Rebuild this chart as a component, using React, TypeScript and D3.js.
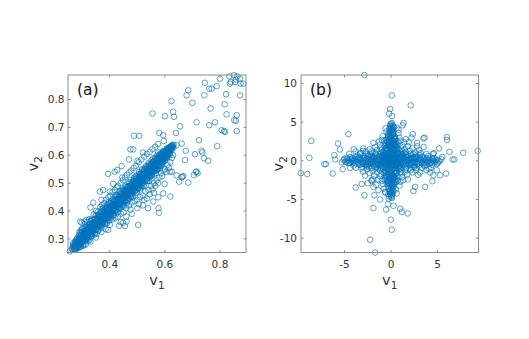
import { useEffect, useRef } from "react";
import * as d3 from "d3";

// ---- panel (a): v1 vs v2, tightly correlated ----
const coreA: [number, number][] = [
  [.262,.265],[.265,.261],[.267,.277],[.27,.262],[.272,.278],[.274,.262],[.276,.291],[.278,.275],[.28,.289],[.281,.267],
  [.283,.303],[.285,.286],[.286,.268],[.288,.3],[.29,.283],[.291,.315],[.293,.273],[.295,.3],[.297,.314],[.298,.287],
  [.3,.327],[.302,.279],[.303,.311],[.305,.301],[.307,.326],[.308,.281],[.31,.323],[.312,.297],[.313,.343],[.315,.317],
  [.317,.297],[.318,.34],[.32,.311],[.322,.333],[.323,.293],[.325,.351],[.327,.324],[.328,.343],[.33,.313],[.332,.365],
  [.333,.339],[.335,.311],[.337,.356],[.338,.33],[.34,.368],[.342,.329],[.343,.353],[.345,.316],[.347,.37],[.348,.347],
  [.35,.385],[.352,.333],[.353,.367],[.355,.345],[.357,.384],[.358,.332],[.36,.364],[.362,.382],[.363,.349],[.365,.396],
  [.367,.362],[.368,.38],[.37,.339],[.372,.396],[.373,.355],[.375,.382],[.377,.411],[.378,.369],[.38,.397],[.382,.357],
  [.383,.384],[.385,.414],[.387,.372],[.388,.399],[.39,.357],[.392,.413],[.393,.387],[.395,.431],[.397,.376],[.398,.406],
  [.4,.389],[.402,.427],[.403,.375],[.405,.408],[.407,.423],[.408,.392],[.41,.442],[.412,.408],[.413,.426],[.415,.385],
  [.417,.439],[.418,.408],[.42,.426],[.422,.457],[.423,.401],[.425,.443],[.427,.42],[.428,.456],[.43,.396],[.432,.442],
  [.433,.42],[.435,.459],[.437,.412],[.438,.44],[.44,.471],[.442,.424],[.443,.457],[.445,.44],[.447,.474],[.448,.419],
  [.45,.457],[.452,.44],[.453,.473],[.455,.435],[.457,.49],[.458,.456],[.46,.472],[.462,.43],[.463,.486],[.465,.456],
  [.467,.471],[.468,.444],[.47,.499],[.472,.457],[.473,.489],[.475,.471],[.477,.511],[.478,.451],[.48,.489],[.482,.469],
  [.483,.505],[.485,.45],[.487,.489],[.488,.514],[.49,.471],[.492,.505],[.493,.487],[.495,.526],[.497,.467],[.498,.516],
  [.5,.489],[.502,.508],[.503,.481],[.505,.532],[.507,.506],[.508,.523],[.51,.477],[.512,.533],[.513,.497],[.515,.523],
  [.517,.491],[.518,.551],[.52,.513],[.522,.534],[.523,.492],[.525,.549],[.527,.515],[.528,.531],[.53,.509],[.532,.561],
  [.533,.529],[.535,.552],[.537,.509],[.538,.547],[.54,.526],[.542,.567],[.543,.508],[.545,.549],[.547,.529],[.548,.568],
  [.55,.542],[.552,.582],[.553,.529],[.555,.566],[.557,.554],[.558,.577],[.56,.531],[.562,.568],[.563,.55],[.565,.588],
  [.567,.546],[.568,.569],[.57,.584],[.572,.547],[.573,.599],[.575,.566],[.577,.585],[.578,.561],[.58,.6],[.582,.58],
  [.583,.595],[.585,.563],[.587,.604],[.588,.578],[.59,.595],[.592,.576],[.593,.615],[.595,.59],[.597,.608],[.598,.579],
  [.6,.615],[.602,.594],[.603,.607],[.605,.591],[.607,.625],[.608,.605],[.61,.619],[.612,.601],[.613,.627],[.615,.611],
  [.617,.623],[.618,.609],[.62,.631],[.622,.624],[.624,.618],[.626,.633],[.628,.629],[.631,.627],
];
const coreA2: [number, number][] = [
  [.271,.266],[.273,.274],[.275,.283],[.277,.27],[.279,.292],[.28,.279],[.282,.272],[.284,.291],[.286,.3],[.287,.27],
  [.289,.297],[.291,.283],[.293,.31],[.294,.271],[.296,.33],[.298,.283],[.3,.301],[.301,.325],[.303,.275],[.305,.316],
  [.306,.301],[.308,.337],[.31,.292],[.312,.318],[.313,.279],[.315,.334],[.317,.307],[.319,.345],[.32,.299],[.322,.325],
  [.324,.339],[.326,.297],[.327,.349],[.329,.323],[.331,.363],[.333,.317],[.334,.343],[.336,.311],[.338,.356],[.34,.337],
  [.341,.338],[.343,.359],[.345,.32],[.347,.373],[.348,.332],[.35,.356],[.352,.318],[.354,.374],[.355,.349],[.357,.384],
  [.359,.33],[.361,.38],[.362,.357],[.364,.387],[.366,.345],[.368,.369],[.369,.397],[.371,.348],[.373,.407],[.375,.358],
  [.376,.378],[.378,.403],[.38,.362],[.382,.39],[.383,.412],[.385,.354],[.387,.398],[.389,.376],[.39,.421],[.392,.369],
  [.394,.403],[.396,.385],[.397,.427],[.399,.366],[.401,.41],[.403,.391],[.404,.431],[.406,.38],[.408,.416],[.41,.4],
  [.411,.385],[.413,.417],[.415,.436],[.417,.402],[.418,.449],[.42,.418],[.422,.403],[.424,.437],[.425,.452],[.427,.396],
  [.429,.437],[.431,.423],[.432,.449],[.434,.411],[.436,.47],[.438,.423],[.439,.44],[.441,.465],[.443,.415],[.445,.456],
  [.446,.441],[.448,.477],[.45,.432],[.452,.458],[.453,.419],[.455,.474],[.457,.447],[.459,.485],[.46,.439],[.462,.465],
  [.464,.479],[.466,.437],[.467,.489],[.469,.463],[.471,.503],[.473,.457],[.474,.483],[.476,.451],[.478,.496],[.48,.477],
  [.481,.455],[.483,.487],[.485,.506],[.487,.474],[.488,.519],[.49,.482],[.492,.473],[.494,.507],[.495,.522],[.497,.466],
  [.499,.507],[.501,.493],[.502,.519],[.504,.481],[.506,.54],[.508,.493],[.509,.51],[.511,.535],[.513,.485],[.515,.526],
  [.516,.511],[.518,.547],[.52,.502],[.522,.528],[.523,.489],[.525,.544],[.527,.517],[.529,.555],[.53,.509],[.532,.535],
  [.534,.549],[.536,.507],[.537,.559],[.539,.533],[.541,.573],[.543,.527],[.544,.553],[.546,.521],[.548,.566],[.55,.547],
  [.551,.525],[.553,.557],[.555,.576],[.557,.544],[.558,.589],[.56,.552],[.562,.543],[.564,.577],[.565,.592],[.567,.536],
  [.569,.577],[.571,.563],[.572,.589],[.574,.551],[.576,.61],[.578,.563],[.579,.58],[.581,.605],[.583,.555],[.585,.596],
  [.586,.575],[.588,.605],[.59,.568],[.592,.604],[.593,.58],[.595,.612],[.597,.586],[.599,.616],[.6,.59],[.602,.612],
  [.604,.6],[.606,.618],[.607,.594],[.609,.622],[.611,.603],[.613,.624],[.614,.607],[.616,.628],[.618,.614],[.62,.627],
  [.621,.616],[.623,.632],[.625,.626],[.627,.637],[.629,.634],[.632,.638],
];
const coreA3: [number, number][] = [
  [.268,.27],[.276,.275],[.283,.279],[.289,.292],[.295,.291],[.299,.304],[.304,.3],[.309,.314],[.314,.309],[.319,.322],
  [.323,.321],[.328,.335],[.332,.328],[.337,.341],[.341,.336],[.346,.352],[.35,.347],[.355,.36],[.359,.354],[.364,.37],
  [.368,.363],[.373,.378],[.377,.371],[.382,.389],[.386,.381],[.391,.396],[.395,.39],[.4,.407],[.404,.398],[.409,.415],
  [.413,.409],[.418,.424],[.422,.417],[.427,.434],[.431,.426],[.436,.442],[.44,.436],[.445,.452],[.449,.444],[.454,.461],
  [.458,.454],[.463,.47],[.467,.461],[.472,.479],[.476,.471],[.481,.488],[.485,.48],[.49,.497],[.494,.489],[.499,.505],
  [.503,.498],[.508,.515],[.512,.507],[.517,.523],[.521,.516],[.526,.533],[.53,.525],[.535,.541],[.539,.534],[.544,.551],
  [.548,.543],[.553,.559],[.557,.551],[.562,.569],[.566,.561],[.571,.577],[.575,.57],[.58,.587],[.584,.579],[.589,.595],
  [.593,.588],[.598,.603],[.602,.598],[.607,.612],[.611,.607],[.616,.62],[.62,.617],[.625,.628],
  [.272,.281],[.279,.268],[.286,.296],[.292,.28],[.297,.311],[.302,.29],[.307,.322],[.311,.298],[.316,.33],[.321,.305],
  [.326,.341],[.33,.317],[.335,.35],[.339,.325],[.344,.361],[.348,.334],[.353,.37],[.357,.343],[.362,.378],[.366,.35],
  [.371,.389],[.375,.36],[.38,.398],[.384,.368],[.389,.407],[.393,.377],[.398,.416],[.402,.386],[.407,.425],[.411,.394],
  [.416,.434],[.42,.403],[.425,.443],[.429,.41],[.434,.452],[.438,.42],[.443,.461],[.447,.428],[.452,.47],[.456,.437],
  [.461,.479],[.465,.446],[.47,.488],[.474,.455],[.479,.497],[.483,.464],[.488,.506],[.492,.473],[.497,.515],[.501,.482],
  [.506,.524],[.51,.49],[.515,.533],[.519,.5],[.524,.542],[.528,.509],[.533,.551],[.537,.517],[.542,.56],[.546,.527],
  [.551,.569],[.555,.535],[.56,.578],[.564,.545],[.569,.587],[.573,.553],[.578,.596],[.582,.562],[.587,.603],[.591,.572],
  [.596,.611],[.6,.582],[.605,.618],[.609,.592],[.614,.625],[.618,.603],[.623,.633],
];
const coreA4: [number, number][] = [
  [.296,.305],[.301,.293],[.312,.327],[.317,.303],[.326,.33],[.334,.325],[.339,.35],[.346,.339],[.351,.364],[.36,.35],
  [.365,.379],[.37,.356],[.379,.388],[.387,.38],[.391,.408],[.397,.389],[.405,.419],[.41,.403],[.414,.43],[.421,.412],
  [.426,.425],[.433,.447],[.437,.428],[.444,.449],[.451,.446],[.456,.468],[.463,.452],[.468,.478],[.474,.466],[.479,.49],
  [.486,.476],[.491,.5],[.496,.484],[.503,.512],[.509,.5],[.514,.529],[.519,.509],[.526,.538],[.531,.521],[.536,.546],
  [.541,.53],[.549,.56],[.554,.541],[.559,.567],[.566,.555],[.572,.58],[.577,.564],[.583,.59],[.59,.581],[.596,.6],
  [.318,.334],[.344,.356],[.366,.37],[.392,.397],[.418,.42],[.446,.45],[.469,.474],[.493,.497],[.518,.522],[.543,.548],
  [.305,.3],[.33,.322],[.356,.352],[.38,.373],[.406,.398],[.43,.427],[.457,.449],[.482,.478],[.507,.503],[.533,.527],
  [.558,.557],[.582,.576],[.61,.61],[.62,.624],
  [.266,.284],[.274,.292],[.281,.3],[.288,.312],[.277,.262],[.285,.273],[.293,.322],[.3,.338],
];
const haloUpA: [number, number][] = [
  [.29,.325],[.298,.358],[.3,.335],[.308,.362],[.31,.352],[.315,.368],[.318,.36],[.325,.37],[.335,.372],[.342,.388],
  [.35,.4],[.358,.398],[.365,.415],[.37,.44],[.372,.42],[.38,.428],[.386,.44],[.395,.45],[.4,.47],[.402,.455],
  [.41,.468],[.418,.475],[.425,.485],[.43,.49],[.44,.5],[.445,.52],[.448,.51],[.455,.52],[.462,.53],[.47,.538],
  [.478,.545],[.487,.555],[.495,.562],[.5,.58],[.505,.575],[.515,.585],[.52,.61],[.525,.595],[.535,.605],[.545,.612],
  [.555,.622],[.565,.63],[.575,.64],
];
const haloLowA: [number, number][] = [
  [.33,.29],[.35,.305],[.37,.325],[.385,.335],[.4,.35],[.41,.37],[.42,.375],[.43,.38],[.44,.36],[.44,.39],
  [.45,.395],[.46,.38],[.46,.41],[.47,.42],[.475,.405],[.48,.39],[.48,.43],[.49,.435],[.5,.41],[.5,.44],
  [.505,.425],[.51,.45],[.52,.42],[.52,.455],[.525,.44],[.53,.47],[.535,.445],[.54,.475],[.545,.46],[.55,.49],
  [.555,.478],[.56,.465],[.56,.5],[.565,.49],[.57,.51],[.575,.5],[.58,.52],[.585,.535],[.59,.525],[.595,.545],
  [.6,.55],[.605,.54],[.61,.565],[.615,.555],[.62,.575],[.625,.59],[.63,.6],
];
const outA: [number, number][] = [
  [.8,.875],[.834,.883],[.851,.887],[.863,.883],[.873,.875],[.84,.863],[.855,.863],[.875,.857],[.885,.857],[.836,.857],
  [.858,.872],[.788,.848],[.77,.839],[.761,.839],[.745,.86],[.743,.815],[.685,.833],[.679,.815],[.7,.788],[.624,.794],
  [.822,.819],[.873,.815],[.817,.783],[.766,.768],[.824,.747],[.861,.744],[.852,.726],[.858,.723],[.861,.687],[.806,.69],
  [.815,.687],[.818,.684],[.761,.708],[.782,.718],[.715,.718],[.79,.633],[.724,.654],[.733,.616],[.736,.61],[.742,.589],
  [.757,.58],[.709,.604],[.673,.583],[.713,.541],[.719,.535],[.555,.75],[.6,.74],[.63,.756],[.633,.738],[.655,.704],
  [.64,.68],[.58,.68],[.594,.672],[.596,.651],[.661,.642],[.676,.616],[.642,.636],[.667,.525],[.661,.521],[.618,.541],
  [.705,.529],[.715,.541],[.685,.502],[.652,.505],[.663,.523],[.642,.528],[.625,.541],[.599,.497],[.594,.463],[.62,.452],
  [.577,.41],[.576,.449],[.558,.434],[.539,.41],[.503,.35],[.461,.362],[.434,.347],[.394,.332],[.578,.394],[.448,.358],
  [.455,.346],[.488,.67],[.507,.67],[.475,.621],[.485,.621],[.47,.585],[.443,.561],[.427,.547],[.418,.541],[.394,.533],
  [.412,.497],[.376,.475],[.364,.469],[.33,.413],[.34,.43],[.293,.362],[.255,.255],[.267,.273],[.285,.296],
];

// ---- panel (b): star-shaped cloud ----
const coreB: [number, number][] = [
  [-1.3,.2],[-1.1,-.6],[-1.2,.9],[-.9,.1],[-.8,-1.1],[-.7,.6],[-.6,-.3],[-.5,1.2],[-.4,-.8],[-.3,.3],
  [-.2,-1.3],[-.1,.8],[0,0],[.1,-.5],[.2,1.1],[.3,-.1],[.4,.6],[.5,-.9],[.6,.2],[.7,1],
  [.8,-.4],[.9,.5],[1,-1],[1.1,.1],[1.3,-.3],[1.2,.8],[-1,-.2],[-.6,1.4],[.3,1.4],[-.2,-.4],
  [0,.5],[-.5,-1.4],[.4,-1.3],[.9,1.3],[-1.4,-.4],[1.4,.4],[-.9,-.7],[.6,-.6],[-.3,1],[.2,-.9],
  [-.7,-.2],[.1,.2],[-.4,.4],[.5,.3],[-.1,-.1],[.8,.9],[-1.2,.5],[1,-.6],[-.8,1],[.3,.9],
  [.1,1.6],[-.5,1.7],[.6,1.8],[-.2,2],[.3,2.2],[-.6,2.3],[.5,2.5],[0,2.6],[-.3,2.8],[.3,3],
  [-.1,3.2],[.2,3.4],[-.3,3.5],[.1,3.7],[0,3.9],[-.2,4.1],[.2,4.2],[0,4.4],[-.1,4.7],[.1,4.9],
  [.7,2.1],[-.7,1.9],[.4,1.5],[-.4,2.5],[.4,2.8],[-.1,2.4],[.2,3.8],
  [0,-1.6],[-.5,-1.8],[.5,-1.7],[-.2,-2],[.3,-2.2],[-.6,-2.3],[.6,-2.4],[.1,-2.6],[-.3,-2.8],[.3,-3],
  [-.1,-3.2],[.2,-3.4],[-.3,-3.6],[.1,-3.8],[-.1,-4],[.2,-4.2],[0,-4.4],[-.2,-4.6],[.1,-4.8],[-.7,-2],
  [.7,-2],[-.4,-2.6],[.4,-2.7],[0,-3.5],[-.2,-3],
  [1.6,.1],[1.7,-.6],[1.8,.7],[2,-.2],[2.2,.4],[2.3,-.8],[2.5,.1],[2.6,.7],[2.8,-.4],[3,.3],
  [3.2,-.2],[3.4,.5],[3.5,-.5],[3.7,.1],[3.9,-.2],[4.1,.3],[4.3,-.1],[4.5,.2],[4.7,-.2],[4.9,.1],
  [5.2,0],[5.4,.2],[2.1,.9],[2,-1],[2.7,-.9],[3.1,.8],[3.6,-.7],[4,.6],[4.4,-.5],[5,-.3],
  [-1.6,-.1],[-1.7,.6],[-1.8,-.7],[-2,.2],[-2.2,-.4],[-2.3,.8],[-2.5,-.1],[-2.6,-.7],[-2.8,.4],[-3,-.3],
  [-3.2,.2],[-3.4,-.5],[-3.5,.5],[-3.7,-.1],[-3.9,.2],[-4.1,-.3],[-4.3,.1],[-4.5,-.2],[-4.7,.2],[-4.9,-.1],
  [-5.1,.1],[-2.1,-.9],[-2,1],[-2.7,.9],[-3.1,-.8],[-3.6,.7],[-4,-.6],[-4.4,.5],[-5.3,-.2],
];
const coreB2: [number, number][] = [
  [-1.15,-.15],[-1.05,.45],[-.95,-.45],[-.85,.75],[-.75,-.75],[-.65,.25],[-.55,-.55],[-.45,.85],[-.35,-.15],[-.25,.55],
  [-.15,-.85],[-.05,.25],[.05,-.25],[.15,.65],[.25,-.65],[.35,.15],[.45,-.35],[.55,.85],[.65,-.15],[.75,.45],
  [.85,-.75],[.95,.15],[1.05,-.35],[1.15,.55],[-.3,-.5],[.2,.4],[-.6,.9],[.7,-.9],[-.9,-.9],[.9,.9],
  [-.1,1.2],[.1,-1.2],[1.2,-.1],[-1.2,.1],[-.4,-1.1],[.4,1.1],[-1,.7],[1,-.8],[0,-.7],[0,.9],
  [-.55,.05],[.55,-.05],[-.2,.15],[.2,-.2],[-.8,.4],[.8,.3],[.3,-.35],[-.35,.7],[.65,.65],[-.65,-.6],
  [.2,1.5],[-.3,1.6],[.4,1.9],[-.4,2],[.1,2.1],[-.2,2.2],[.5,2.2],[0,2.35],[-.5,2.1],[.25,2.5],
  [-.25,2.6],[.15,2.75],[-.05,2.9],[.35,3.1],[-.3,3.1],[.05,3.3],[-.2,3.4],[.25,3.6],[-.1,3.6],[.1,4],
  [-.15,3.8],[.05,4.25],[-.1,4.5],[.15,4.6],[0,4.8],[.6,1.6],[-.6,1.6],[.3,1.7],[-.1,1.8],[.35,2],
  [0,-1.5],[-.35,-1.65],[.35,-1.6],[.15,-1.9],[-.45,-2.1],[.45,-2.05],[-.1,-2.25],[.25,-2.4],[-.3,-2.45],[.05,-2.8],
  [-.15,-2.6],[.3,-2.85],[-.25,-3.3],[.15,-3.15],[.05,-3.6],[-.15,-3.85],[.25,-3.9],[.05,-4.1],[-.1,-4.3],[.1,-4.5],
  [0,-4.7],[-.6,-1.6],[.6,-1.55],[-.05,-1.75],[.2,-2.2],
  [1.5,.3],[1.6,-.35],[1.75,.45],[1.9,-.5],[1.95,.2],[2.1,-.3],[2.2,.7],[2.35,-.2],[2.4,.4],[2.55,-.55],
  [2.65,.2],[2.75,.5],[2.9,-.1],[3,-.6],[3.1,.4],[3.25,.1],[3.35,-.35],[3.5,.25],[3.65,-.2],[3.8,.35],
  [3.95,.05],[4.1,-.35],[4.2,.1],[4.4,.3],[4.6,-.05],[4.8,.15],[5.1,-.1],[1.55,.8],[1.65,-.9],[2.5,.5],
  [-1.5,-.3],[-1.6,.35],[-1.75,-.45],[-1.9,.5],[-1.95,-.2],[-2.1,.3],[-2.2,-.7],[-2.35,.2],[-2.4,-.4],[-2.55,.55],
  [-2.65,-.2],[-2.75,-.5],[-2.9,.1],[-3,.6],[-3.1,-.4],[-3.25,-.1],[-3.35,.35],[-3.5,-.25],[-3.65,.2],[-3.8,-.35],
  [-3.95,-.05],[-4.1,.35],[-4.2,-.1],[-4.4,-.3],[-4.6,.05],[-4.8,-.15],[-5,.25],[-1.55,-.8],[-1.65,.9],[-2.5,-.5],
];
const coreB3: [number, number][] = [
  [-.22,-.31],[.27,.18],[-.33,.22],[.19,-.36],[-.78,.08],[.71,-.12],[.06,.79],[-.09,-.72],[-.52,.46],[.48,-.55],
  [-.47,-.58],[.54,.49],[-.97,.33],[1.02,-.27],[.31,.98],[-.28,-1.03],[-1.42,.12],[1.38,-.07],[.13,1.43],[-.06,-1.37],
  [-1.83,.27],[1.76,-.22],[.24,1.82],[-.27,-1.79],[-2.18,.08],[2.24,-.13],[.09,2.21],[-.12,-2.17],[-2.63,.31],[2.58,-.28],
  [.29,2.57],[-.31,-2.62],[-3.05,-.12],[3.08,.14],[-.11,3.04],[.13,-3.03],[-1.25,-.45],[1.27,.42],[-.43,1.24],[.46,-1.22],
  [-.88,-.25],[.9,.23],[-.21,.91],[.24,-.87],[-1.6,-.55],[1.63,.52],[-.53,1.62],[.56,-1.58],[-2,.55],[2.03,-.5],
  [.5,2.02],[-.52,-2.01],[-2.4,-.35],[2.38,.33],[-.34,2.4],[.37,-2.39],[-.15,.05],[.12,-.08],[.03,.38],[-.04,-.4],
  [.4,.02],[-.42,-.05],[-1.1,-.9],[1.1,.85],[-.85,1.1],[.88,-1.05],[-3.4,.1],[3.45,-.05],[-4.2,.3],[4.25,-.25],
  [.05,-4.15],[-.08,4.05],[-.15,-3.95],[.18,3.45],[-1.95,-.05],[1.92,.06],[-.02,-1.95],[.04,1.97],[-.6,-.95],[.62,.92],
  [-.95,.62],[.97,-.6],
];
const coreB4: [number, number][] = [
  [-1.35,.55],[1.35,-.55],[-.55,1.35],[.55,-1.35],[-1.35,-.6],[1.35,.6],[.6,1.35],[-.6,-1.35],[-2.2,.55],[2.2,-.55],
  [-2.25,-.15],[2.3,.15],[-.15,2.25],[.15,-2.3],[-.55,2.7],[.55,-2.75],[-2.7,-.45],[2.7,.45],[.45,2.95],[-.45,-2.95],
  [-3.3,-.5],[3.3,.55],[-3.6,.3],[3.6,-.3],[-4,.05],[4,-.05],[-4.6,-.3],[4.6,.35],[.3,-3.3],[-.3,3.3],
  [.3,4.3],[-.3,-4.3],[0,3.05],[0,-2.95],[-1,1.45],[1,-1.45],[1.45,1],[-1.45,-1],[-.8,-1.55],[.8,1.55],
  [-1.75,.05],[1.75,-.05],[-.05,1.75],[.05,-1.75],[-2.05,-.3],[2.05,.3],[.3,-2.05],[-.3,2.05],[-2.9,.35],[2.9,-.35],
  [.35,2.85],[-.35,-2.85],[-1.15,1.15],[1.15,-1.15],[-1.2,-1.2],[1.2,1.25],[-.35,-.25],[.35,.3],[-.65,.45],[.65,-.4],
  [-.15,.6],[.1,-.6],[-.9,-.05],[.95,.05],[-2.5,.2],[2.5,-.2],[-.2,2.45],[.2,-2.5],[-3.8,.55],[3.8,-.55],
  [-4.8,.4],[4.9,-.4],[-.5,3.8],[.5,-3.7],[-.25,-4.9],[.25,4.45],
];
const haloB: [number, number][] = [
  [1.5,1.5],[1.2,2],[2,1.3],[1,2.6],[2.6,1.1],[1.8,1.9],[.9,3],[3.2,1],[2.3,1.6],[1.4,2.4],
  [3.8,.9],[.8,3.6],[2.8,1.9],
  [-1.5,1.4],[-1.2,2.1],[-2.1,1.2],[-1,2.7],[-2.7,1.2],[-1.7,1.8],[-.9,3.2],[-3.3,.9],[-2.3,1.5],[-3.8,1.2],
  [-1.3,2.5],
  [-1.5,-1.5],[-1.2,-2],[-2,-1.3],[-1,-2.6],[-2.6,-1.1],[-1.8,-1.9],[-.9,-3],[-3.2,-1],[-2.3,-1.6],[-1.4,-2.4],
  [-3.8,-.9],[-.8,-3.6],[-2.8,-1.9],[-2.1,-2.5],[-1.6,-3.1],
  [1.5,-1.4],[1.2,-2.1],[2.1,-1.2],[1,-2.7],[2.7,-1.2],[1.7,-1.8],[.9,-3.2],[3.3,-.9],[2.3,-1.5],[3.8,-1.2],
  [1.3,-2.5],[2.9,-1.8],[4.1,-1],
  [1.1,1.6],[1.6,1.1],[.7,2.5],[2.4,.9],[-1.1,1.7],[-1.7,1],[-.7,2.6],[-2.5,.7],[-1.1,-1.7],[-1.7,-1],
  [-.7,-2.5],[-2.4,-.8],[1.1,-1.6],[1.6,-1.1],[.7,-2.6],[2.5,-.8],[3,1.4],[-3,-1.4],[3.1,-1.5],[-3,1.3],
  [1.9,2.4],[-1.9,2.3],[1.8,-2.4],[-1.9,-2.4],[4.5,.9],[-4.4,-.9],[4.3,-.9],[-4.5,.9],[.6,4.3],[-.6,4.2],
  [.6,-4.2],[-.6,-4.1],
];
const outB: [number, number][] = [
  [-2.87,11.1],[.07,8.46],[2.11,7.17],[-.1,6.7],[-.2,6.1],[.1,5.8],[-4.59,3.45],[-8.57,2.59],[-8.78,.39],[-9.7,-1.6],
  [-9,-1.7],[-7.17,-.43],[-7,-.43],[-6.27,-1.64],[-6,.17],[-6.1,.73],[-5.7,2.25],[-5.5,1.47],[-5.2,-1.08],[9.3,1.3],
  [7.74,1.04],[6.6,.17],[6.8,.17],[5.9,-1.64],[6,3.1],[6,2.7],[6.27,1.17],[5.16,1.6],[4.44,-2.63],[3.66,-3.37],
  [2.58,-3.37],[2.4,-3.9],[3.58,3],[3.48,2.9],[2.33,3.45],[2.2,3],[1.33,4.9],[1.25,4.6],[.8,4],[-3.15,-3],
  [-2.5,-2.9],[-2.87,-4.45],[-1.8,-4.45],[-1.18,-5],[-1.9,-6.1],[-.54,-6.3],[-.32,-5.6],[.25,-5.8],[-.04,-7.6],[.07,-8.9],
  [-2.26,-10.2],[-1.72,-11.85],[.97,-6.2],[1.15,-6.6],[1.8,-6.8],[-.65,-4],[-1.36,-3.8],[-2.08,-2.6],[-1.9,-3.37],[-3.8,-3.45],
  [-3.33,1.04],[4.55,-1.86],[4.9,-1.2],[5.27,-1.86],[-4,1.5],[-3,1.6],[4.6,1],[5.5,.5],[3.5,1.8],[4.2,-1.5],
  [1.6,2.8],[2.8,2.3],
];

const ticksAX = [0.4, 0.6, 0.8];
const ticksAY = [0.3, 0.4, 0.5, 0.6, 0.7, 0.8];
const ticksBX = [-5, 0, 5];
const ticksBY = [-10, -5, 0, 5, 10];

const W = 529;
const H = 339;
const FONT = "'DejaVu Sans', sans-serif";
const BLUE = "#0072BD";

function drawPanel(svg, o) {
  const x = d3.scaleLinear().domain(o.xDomain).range([o.left, o.right]);
  const y = d3.scaleLinear().domain(o.yDomain).range([o.bottom, o.top]);
  const g = svg.append("g");

  // markers
  g.append("g")
    .selectAll("circle")
    .data(o.points)
    .enter()
    .append("circle")
    .attr("cx", d => x(d[0]))
    .attr("cy", d => y(d[1]))
    .attr("r", 2.8)
    .attr("fill", "none")
    .attr("stroke", BLUE)
    .attr("stroke-width", 0.65);

  // box
  g.append("rect")
    .attr("x", o.left)
    .attr("y", o.top)
    .attr("width", o.right - o.left)
    .attr("height", o.bottom - o.top)
    .attr("fill", "none")
    .attr("stroke", "#8a8a8a")
    .attr("stroke-width", 1);

  // ticks pointing inward on all four sides
  const tl = 2.5;
  const tk = g.append("g").attr("stroke", "#8a8a8a").attr("stroke-width", 1);
  o.xTicks.forEach(t => {
    tk.append("line").attr("x1", x(t)).attr("x2", x(t)).attr("y1", o.bottom).attr("y2", o.bottom - tl);
    tk.append("line").attr("x1", x(t)).attr("x2", x(t)).attr("y1", o.top).attr("y2", o.top + tl);
  });
  o.yTicks.forEach(t => {
    tk.append("line").attr("x1", o.left).attr("x2", o.left + tl).attr("y1", y(t)).attr("y2", y(t));
    tk.append("line").attr("x1", o.right).attr("x2", o.right - tl).attr("y1", y(t)).attr("y2", y(t));
  });

  // tick labels
  g.append("g")
    .selectAll("text")
    .data(o.xTicks)
    .enter()
    .append("text")
    .attr("x", d => x(d))
    .attr("y", o.bottom + 15.5)
    .attr("text-anchor", "middle")
    .attr("font-family", FONT)
    .attr("font-size", 10.5)
    .attr("fill", "#333")
    .text(d => (d < 0 ? "-" + Math.abs(d) : String(d)));
  g.append("g")
    .selectAll("text")
    .data(o.yTicks)
    .enter()
    .append("text")
    .attr("x", o.left - o.yLabelGap)
    .attr("y", d => y(d) + 3.8)
    .attr("text-anchor", "end")
    .attr("font-family", FONT)
    .attr("font-size", 10.5)
    .attr("fill", "#333")
    .text(d => (d < 0 ? "-" + Math.abs(d) : String(d)));

  // axis labels v1 / v2
  const xl = g.append("text")
    .attr("x", (o.left + o.right) / 2)
    .attr("y", 285)
    .attr("text-anchor", "middle")
    .attr("font-family", FONT)
    .attr("font-size", 14.5)
    .attr("fill", "#333");
  xl.append("tspan").text("v");
  xl.append("tspan").attr("font-size", 10.5).attr("dy", 4).text("1");

  const yl = g.append("text")
    .attr("transform", `translate(${o.yTitleX},${(o.top + o.bottom) / 2}) rotate(-90)`)
    .attr("text-anchor", "middle")
    .attr("font-family", FONT)
    .attr("font-size", 14.5)
    .attr("fill", "#333");
  yl.append("tspan").text("v");
  yl.append("tspan").attr("font-size", 10.5).attr("dy", 4).text("2");

  // panel tag
  g.append("text")
    .attr("x", o.left + 9)
    .attr("y", o.top + 20)
    .attr("font-family", FONT)
    .attr("font-size", 15.5)
    .attr("fill", "#111")
    .text(o.tag);
}

export default function App() {
  const ref = useRef(null);

  useEffect(() => {
    if (!ref.current) return;
    const svg = d3.select(ref.current).html("")
      .append("svg")
      .attr("width", W)
      .attr("height", H)
      .attr("viewBox", `0 0 ${W} ${H}`)
      .style("display", "block");

    svg.append("rect").attr("width", W).attr("height", H).attr("fill", "#fff");

    drawPanel(svg, {
      points: [...coreA, ...coreA2, ...coreA3, ...coreA4, ...haloUpA, ...haloLowA, ...outA],
      xDomain: [0.2484, 0.8945],
      yDomain: [0.251, 0.888],
      left: 68, right: 246, top: 75, bottom: 252.5,
      xTicks: ticksAX, yTicks: ticksAY,
      yLabelGap: 3.5, yTitleX: 38, tag: "(a)",
    });
    drawPanel(svg, {
      points: [...coreB, ...coreB2, ...coreB3, ...coreB4, ...haloB, ...outB],
      xDomain: [-9.68, 9.39],
      yDomain: [-11.85, 11.1],
      left: 301, right: 478.5, top: 75, bottom: 252.5,
      xTicks: ticksBX, yTicks: ticksBY,
      yLabelGap: 4, yTitleX: 283, tag: "(b)",
    });
  }, []);

  return <div ref={ref} style={{ position: "absolute", left: 0, top: 0 }}></div>;
}
